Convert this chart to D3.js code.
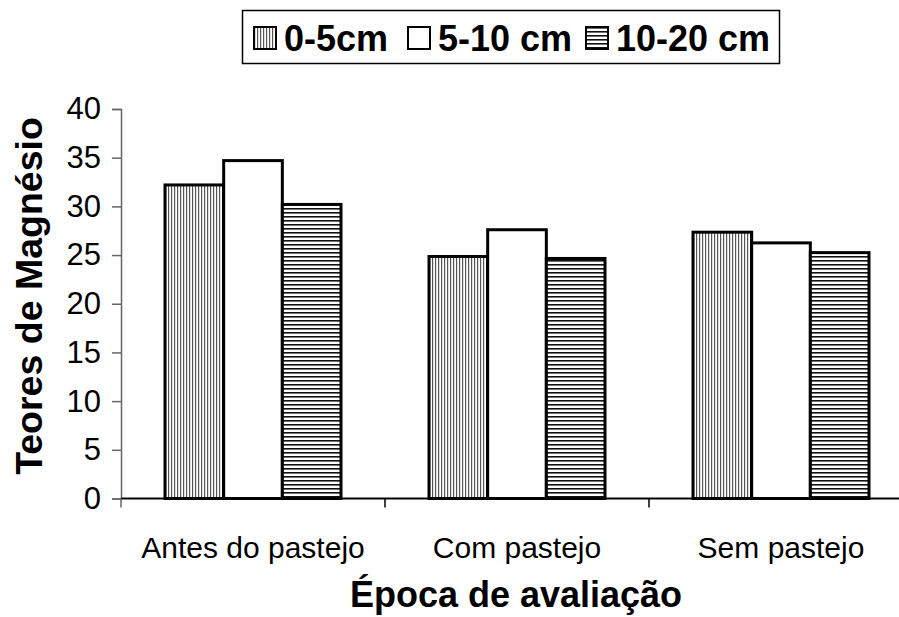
<!DOCTYPE html>
<html>
<head>
<meta charset="utf-8">
<script src="https://cdn.jsdelivr.net/npm/d3@7"></script>
<style>
  body { margin: 0; background: #fff; }
  text { font-family: "Liberation Sans", Arial, sans-serif; fill: #000; }
</style>
</head>
<body>
<div id="chart"></div>
<script>
// chart values
var categories = ["Antes do pastejo", "Com pastejo", "Sem pastejo"];
var series = ["0-5cm", "5-10 cm", "10-20 cm"];
var depth0_5 = [32.2, 24.85, 27.35];
var depth5_10 = [34.7, 27.6, 26.25];
var depth10_20 = [30.2, 24.65, 25.25];
var yTicks = [0, 5, 10, 15, 20, 25, 30, 35, 40];

var values = [depth0_5, depth5_10, depth10_20];
var fills = ["url(#vlines)", "#fff", "url(#hlines)"];

var W = 899, H = 617,
    m = [109, 0, 119, 121]; // top right bottom left

var svg = d3.select("#chart").append("svg")
    .attr("width", W)
    .attr("height", H);

// hatch patterns
var defs = svg.append("defs");
var pv = defs.append("pattern")
    .attr("id", "vlines")
    .attr("patternUnits", "userSpaceOnUse")
    .attr("width", 3).attr("height", 3);
pv.append("rect").attr("width", 3).attr("height", 3).attr("fill", "#fff");
pv.append("rect").attr("width", 1.2).attr("height", 3).attr("fill", "#555");

var ph = defs.append("pattern")
    .attr("id", "hlines")
    .attr("patternUnits", "userSpaceOnUse")
    .attr("width", 4).attr("height", 4);
ph.append("rect").attr("width", 4).attr("height", 4).attr("fill", "#fff");
ph.append("rect").attr("width", 4).attr("height", 1.6).attr("fill", "#111");

var x0 = d3.scaleBand()
    .domain(categories)
    .range([m[3], m[3] + 792])
    .paddingInner(1 / 3)
    .paddingOuter(1 / 6);

var x1 = d3.scaleBand()
    .domain(series)
    .range([0, x0.bandwidth()]);

var y = d3.scaleLinear()
    .domain([0, 40])
    .range([498.5, m[0]]);

// y axis
var yAxis = svg.append("g")
    .attr("transform", "translate(" + m[3] + ",0)")
    .call(d3.axisLeft(y).tickValues(yTicks).tickSize(9).tickPadding(11));
yAxis.select(".domain").attr("stroke", "#666").attr("stroke-width", 1.5);
yAxis.selectAll(".tick line").attr("stroke", "#666").attr("stroke-width", 1.5);
yAxis.selectAll(".tick text")
    .style("font-size", "31px")
    .style("font-family", "Liberation Sans, Arial, sans-serif")
    .attr("fill", "#000");

// bars
var group = svg.selectAll(".grp")
    .data(categories)
  .enter().append("g")
    .attr("class", "grp")
    .attr("transform", function(d) { return "translate(" + x0(d) + ",0)"; });

group.selectAll("rect")
    .data(function(d, i) {
      return series.map(function(s, j) { return {s: s, v: values[j][i], j: j}; });
    })
  .enter().append("rect")
    .attr("x", function(d) { return x1(d.s); })
    .attr("y", function(d) { return y(d.v); })
    .attr("width", x1.bandwidth())
    .attr("height", function(d) { return y(0) - y(d.v); })
    .attr("fill", function(d) { return fills[d.j]; })
    .attr("stroke", "#000")
    .attr("stroke-width", 3);

// x axis line and category separators
svg.append("line")
    .attr("x1", m[3]).attr("x2", W)
    .attr("y1", y(0)).attr("y2", y(0))
    .attr("stroke", "#000").attr("stroke-width", 2);

svg.selectAll(".sep")
    .data(d3.range(categories.length + 1))
  .enter().append("line")
    .attr("class", "sep")
    .attr("x1", function(i) { return m[3] + i * x0.step(); })
    .attr("x2", function(i) { return m[3] + i * x0.step(); })
    .attr("y1", y(0)).attr("y2", y(0) + 9)
    .attr("stroke", function(i) { return i === 0 ? "#666" : "#000"; })
    .attr("stroke-width", 1.5);

svg.selectAll(".cat")
    .data(categories)
  .enter().append("text")
    .attr("class", "cat")
    .attr("x", function(d) { return x0(d) + x0.bandwidth() / 2; })
    .attr("y", 558)
    .attr("text-anchor", "middle")
    .style("font-size", "30px")
    .text(function(d) { return d; });

// axis titles
svg.append("text")
    .attr("x", 516).attr("y", 607)
    .attr("text-anchor", "middle")
    .style("font-size", "36px")
    .style("font-weight", "bold")
    .text("Época de avaliação");

svg.append("text")
    .attr("transform", "translate(42,296) rotate(-90)")
    .attr("text-anchor", "middle")
    .style("font-size", "37.5px")
    .style("font-weight", "bold")
    .text("Teores de Magnésio");

// legend
var legend = svg.append("g");
legend.append("rect")
    .attr("x", 242.5).attr("y", 10.5)
    .attr("width", 537).attr("height", 53)
    .attr("fill", "#fff")
    .attr("stroke", "#000").attr("stroke-width", 1.5);

var legX = [254, 408, 586];
var item = legend.selectAll(".leg")
    .data(series)
  .enter().append("g")
    .attr("class", "leg")
    .attr("transform", function(d, i) { return "translate(" + legX[i] + ",27)"; });

item.append("rect")
    .attr("width", 22).attr("height", 22)
    .attr("fill", function(d, i) { return fills[i]; })
    .attr("stroke", "#000").attr("stroke-width", 2);

item.append("text")
    .attr("x", 30).attr("y", 24)
    .style("font-size", "36px")
    .style("font-weight", "bold")
    .text(function(d) { return d; });
</script>
</body>
</html>
